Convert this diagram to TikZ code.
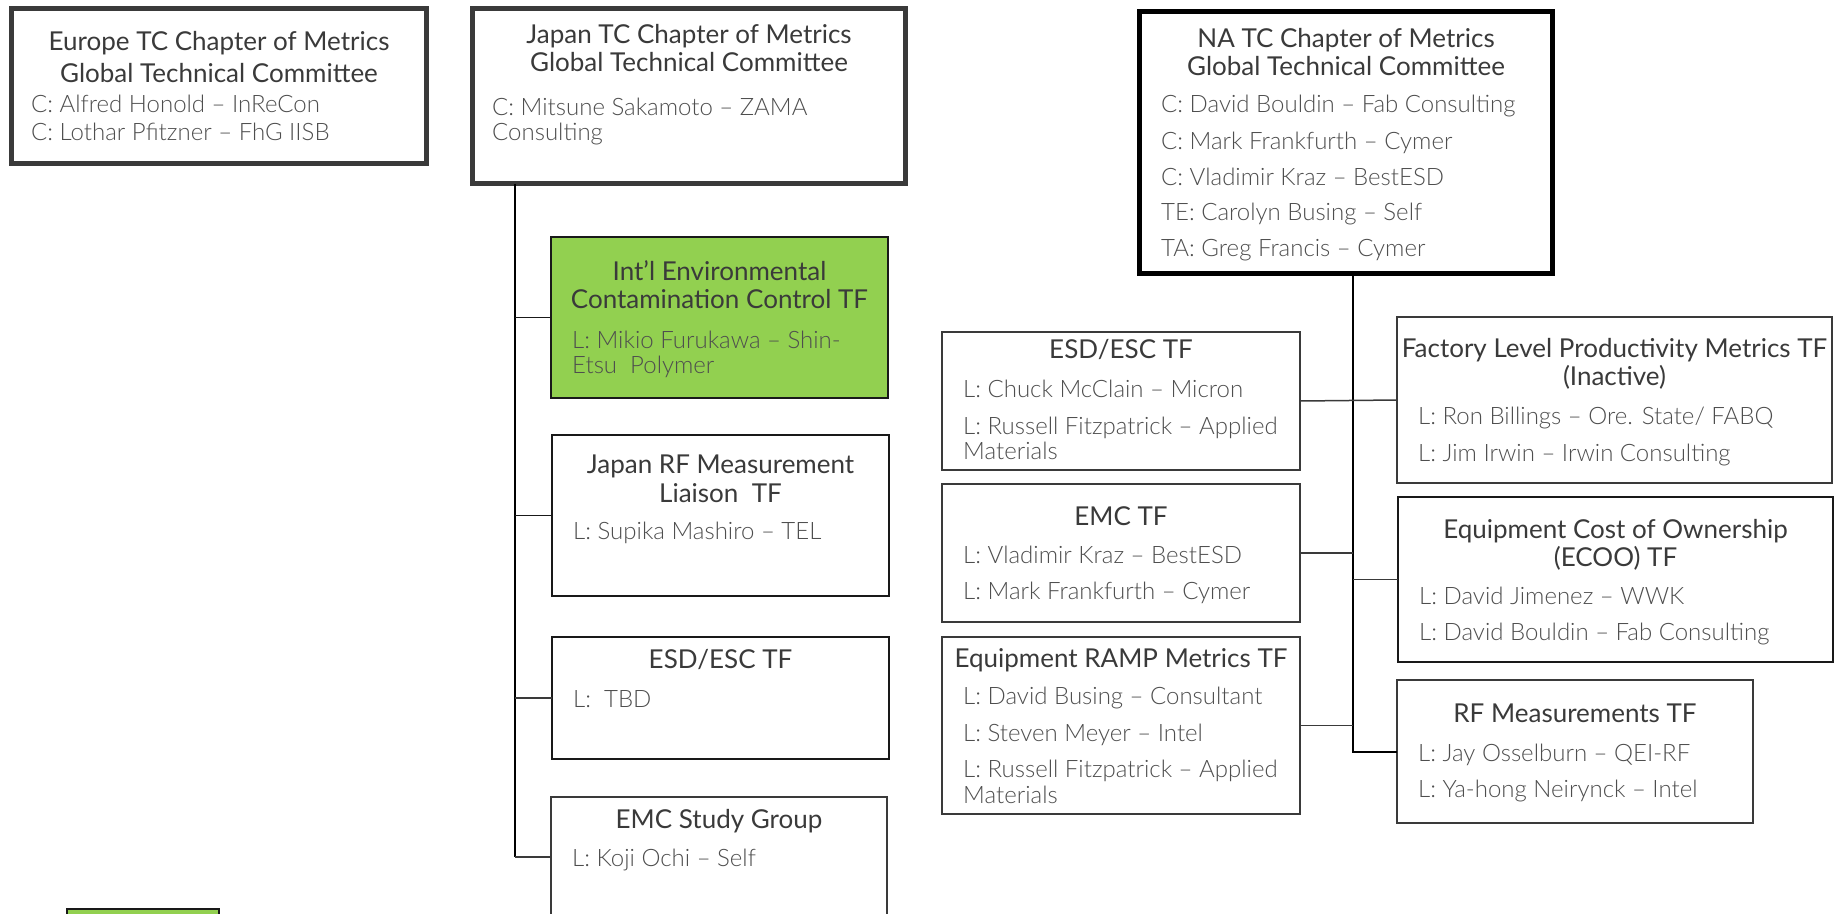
\documentclass[tikz,border=0pt]{standalone}
\usepackage{fontspec}
\setmainfont{Lato}
\newfontfamily\lightfont{Lato Light}
\usetikzlibrary{calc}
\definecolor{hd}{HTML}{3A3A3A}
\definecolor{bd}{HTML}{4E4E4E}
\definecolor{grn}{HTML}{92D050}
\tikzset{
  hdtext/.style={font=\fontsize{26}{28}\selectfont, text=hd, inner sep=0, anchor=base},
  bdtext/.style={font=\lightfont\fontsize{24}{28}\selectfont, text=bd, inner sep=0, anchor=base west},
  boxbase/.style={rectangle, inner sep=0, outer sep=0, anchor=north west, fill=white},
  chapter/.style={boxbase, draw=hd, line width=5pt},
  nachapter/.style={boxbase, draw=black, line width=5pt},
  tfbox/.style={boxbase, draw=hd, line width=1.5pt},
  tfdark/.style={boxbase, draw=black!90, line width=1.8pt},
  greenbox/.style={boxbase, draw=black!90, line width=1.5pt, fill=grn},
  trunk/.style={draw=black, line width=2pt},
  branch/.style={draw=hd, line width=1.5pt},
  jbranch/.style={draw=black!90, line width=1.6pt},
}
\begin{document}
\begin{tikzpicture}[x=1pt, y=-1pt]
\useasboundingbox (0,0) rectangle (1839,913);
\fill[white] (0,0) rectangle (1839,913);
\clip (0,0) rectangle (1839,913);

% ---------- chapter boxes ----------
\node[chapter, minimum width=415pt, minimum height=155pt] (eu) at (11.5,8.5) {};
\node[chapter, minimum width=433pt, minimum height=175pt] (jtc) at (472.5,8.5) {};
\node[nachapter, minimum width=413pt, minimum height=262pt] (na) at (1139.5,11.5) {};

% ---------- Japan task forces ----------
\node[greenbox, minimum width=337pt, minimum height=161pt] (intl) at (551,237) {};
\node[tfdark, minimum width=337pt, minimum height=161pt] (jrf) at (552,435) {};
\node[tfdark, line width=2.2pt, minimum width=337pt, minimum height=122pt] (jesd) at (552,637) {};
\node[tfbox, minimum width=336pt, minimum height=120pt] (emcsg) at (551,797) {};

% ---------- NA task forces ----------
\node[tfbox, minimum width=358pt, minimum height=138pt] (naesd) at (942,332) {};
\node[tfbox, minimum width=358pt, minimum height=138pt] (naemc) at (942,484) {};
\node[tfbox, minimum width=358pt, minimum height=177pt] (ramp) at (942,637) {};
\node[tfbox, minimum width=435pt, minimum height=166pt] (fact) at (1397,317) {};
\node[tfdark, minimum width=435pt, minimum height=165pt] (ecoo) at (1398,497) {};
\node[tfbox, minimum width=356pt, minimum height=143pt] (narf) at (1397,680) {};

% ---------- partial box at the bottom left ----------
\node[greenbox, minimum width=152pt, minimum height=60pt] (legend) at (67,909) {};

% ---------- connectors ----------
\coordinate (jbus) at (515,0);
\draw[trunk] (jtc.south -| jbus) -- (emcsg.west -| jbus);
\draw[jbranch] (intl.west -| jbus) -- (intl.west);
\draw[jbranch] (jrf.west -| jbus) -- (jrf.west);
\draw[branch] (jesd.west -| jbus) -- (jesd.west);
\draw[branch] (emcsg.west -| jbus) -- (emcsg.west);

\coordinate (nabus) at (1353,0);
\draw[trunk] (na.south -| nabus) -- (narf.west -| nabus) -- (narf.west);
\draw[branch] (naesd.east) -- (fact.west);
\draw[branch] (naemc.east) -- (naemc.east -| nabus);
\draw[branch] (ecoo.west -| nabus) -- (ecoo.west);
\draw[branch] (ramp.east) -- (ramp.east -| nabus);

% ---------- texts: Europe ----------
\node[hdtext] (eu-h1) at (219,50) {Europe TC Chapter of Metrics};
\node[hdtext] (eu-h2) at (219,82) {Global Technical Committee};
\node[bdtext] (eu-b1) at (31,112) {C: Alfred Honold – InReCon};
\node[bdtext] (eu-b2) at (31,140) {C: Lothar Pfitzner – FhG IISB};

% ---------- texts: Japan ----------
\node[hdtext] (jtc-h1) at (689,43) {Japan TC Chapter of Metrics};
\node[hdtext] (jtc-h2) at (689,71) {Global Technical Committee};
\node[bdtext] (jtc-b1) at (492,115) {C: Mitsune Sakamoto – ZAMA};
\node[bdtext] (jtc-b2) at (492,140) {Consulting};

\node[hdtext] (intl-h1) at (719.5,280) {Int’l Environmental};
\node[hdtext] (intl-h2) at (719.5,308) {Contamination Control TF};
\node[bdtext] (intl-b1) at (572,348) {L: Mikio Furukawa – Shin-};
\node[bdtext] (intl-b2) at (572,373) {Etsu\ \ Polymer};

\node[hdtext] (jrf-h1) at (720.5,473) {Japan RF Measurement};
\node[hdtext] (jrf-h2) at (720.5,502) {Liaison\ \ TF};
\node[bdtext] (jrf-b1) at (573,539) {L: Supika Mashiro – TEL};

\node[hdtext] (jesd-h1) at (720.5,668) {ESD/ESC TF};
\node[bdtext] (jesd-b1) at (573,707) {L:\ \ TBD};

\node[hdtext] (emcsg-h1) at (719,828) {EMC Study Group};
\node[bdtext] (emcsg-b1) at (572,866) {L: Koji Ochi – Self};

% ---------- texts: NA ----------
\node[hdtext] (na-h1) at (1346,47) {NA TC Chapter of Metrics};
\node[hdtext] (na-h2) at (1346,75) {Global Technical Committee};
\node[bdtext] (na-b1) at (1161,112) {C: David Bouldin – Fab Consulting};
\node[bdtext] (na-b2) at (1161,149) {C: Mark Frankfurth – Cymer};
\node[bdtext] (na-b3) at (1161,185) {C: Vladimir Kraz – BestESD};
\node[bdtext] (na-b4) at (1161,220) {TE: Carolyn Busing – Self};
\node[bdtext] (na-b5) at (1161,256) {TA: Greg Francis – Cymer};

\node[hdtext] (naesd-h1) at (1121,358) {ESD/ESC TF};
\node[bdtext] (naesd-b1) at (963,397) {L: Chuck McClain – Micron};
\node[bdtext] (naesd-b2) at (963,434) {L: Russell Fitzpatrick – Applied};
\node[bdtext] (naesd-b3) at (963,459) {Materials};

\node[hdtext] (naemc-h1) at (1121,525) {EMC TF};
\node[bdtext] (naemc-b1) at (963,563) {L: Vladimir Kraz – BestESD};
\node[bdtext] (naemc-b2) at (963,599) {L: Mark Frankfurth – Cymer};

\node[hdtext] (ramp-h1) at (1121,667) {Equipment RAMP Metrics TF};
\node[bdtext] (ramp-b1) at (963,704) {L: David Busing – Consultant};
\node[bdtext] (ramp-b2) at (963,741) {L: Steven Meyer – Intel};
\node[bdtext] (ramp-b3) at (963,777) {L: Russell Fitzpatrick – Applied};
\node[bdtext] (ramp-b4) at (963,803) {Materials};

\node[hdtext] (fact-h1) at (1614.5,357) {Factory Level Productivity Metrics TF};
\node[hdtext] (fact-h2) at (1614.5,385) {(Inactive)};
\node[bdtext] (fact-b1) at (1418,424) {L: Ron Billings – Ore. State/ FABQ};
\node[bdtext] (fact-b2) at (1418,461) {L: Jim Irwin – Irwin Consulting};

\node[hdtext] (ecoo-h1) at (1615.5,538) {Equipment Cost of Ownership};
\node[hdtext] (ecoo-h2) at (1615.5,566) {(ECOO) TF};
\node[bdtext] (ecoo-b1) at (1419,604) {L: David Jimenez – WWK};
\node[bdtext] (ecoo-b2) at (1419,640) {L: David Bouldin – Fab Consulting};

\node[hdtext] (narf-h1) at (1575,722) {RF Measurements TF};
\node[bdtext] (narf-b1) at (1418,761) {L: Jay Osselburn – QEI-RF};
\node[bdtext] (narf-b2) at (1418,797) {L: Ya-hong Neirynck – Intel};
\end{tikzpicture}
\end{document}
